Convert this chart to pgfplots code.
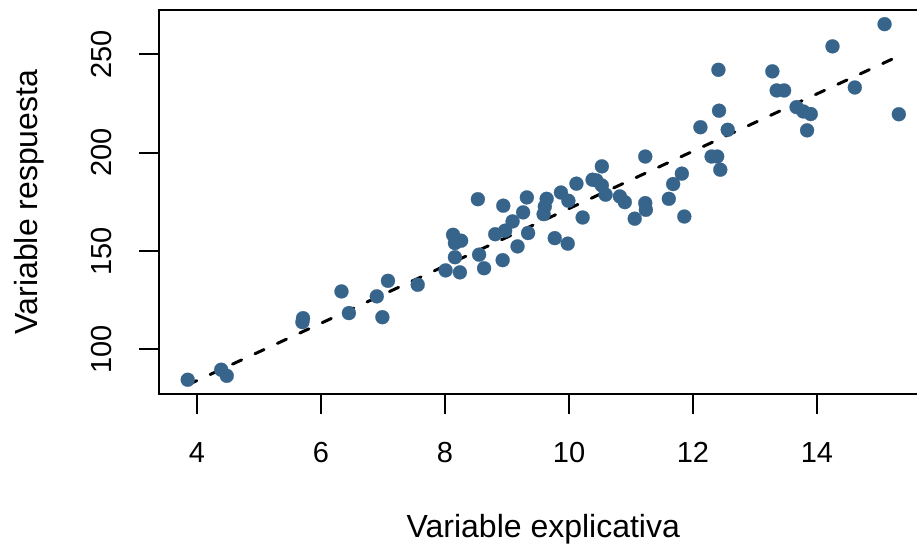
\documentclass[border=0pt]{standalone}
\usepackage{fontspec}
\setmainfont{Liberation Sans}
\usepackage{pgfplots}
\pgfplotsset{compat=1.18}
\usetikzlibrary{calc}
\definecolor{pt}{HTML}{36648B}
\begin{document}
\begin{tikzpicture}
\begin{axis}[
  scale only axis, width=757.6pt, height=383.9pt,
  xmin=3.39, xmax=15.61, ymin=77.4, ymax=272.6,
  xtick={4,6,8,10,12,14}, ytick={100,150,200,250},
  minor tick num=0,
  axis line style={draw=none},
  tick align=outside, major tick length=20pt, tick pos=left,
  every tick/.style={black, line width=2pt},
  /pgf/number format/assume math mode=true,
  ticklabel style={font=\fontsize{29}{34}\selectfont, inner sep=0pt},
  xticklabel shift=28pt, yticklabel shift=27pt,
  xticklabel style={anchor=north},
  yticklabel style={rotate=90, anchor=south},
  every axis x label/.style={at={($(rel axis cs:0.507,0)+(0,-143.1pt)$)}, anchor=base, font=\fontsize{32}{38}\selectfont, inner sep=0pt},
  every axis y label/.style={at={($(rel axis cs:0,0.5)+(-121.2pt,0)$)}, rotate=90, anchor=base, font=\fontsize{32}{38}\selectfont, inner sep=0pt},
  xlabel={Variable explicativa}, ylabel={Variable respuesta},
]
\addplot[color=pt, only marks, mark=*, mark size=7pt, mark options={fill=pt, draw=pt, line width=0.2pt}] table {
x y
3.85 84.6
4.39 89.7
4.48 86.6
5.71 115.9
5.70 113.9
6.33 129.5
6.45 118.5
6.90 127.0
6.99 116.4
7.08 134.9
7.56 132.9
8.01 140.2
8.24 139.2
8.13 158.3
8.16 154.1
8.26 155.3
8.16 146.9
8.53 176.4
8.55 148.2
8.63 141.3
8.81 158.6
8.93 145.4
8.94 173.1
8.97 160.4
9.09 165.1
9.17 152.4
9.26 169.7
9.32 177.3
9.34 159.2
9.59 168.8
9.61 172.7
9.64 176.6
9.77 156.6
9.87 179.8
9.98 153.8
9.99 175.6
10.12 184.3
10.22 167.1
10.38 186.3
10.44 186.0
10.53 183.4
10.59 178.7
10.53 193.1
10.82 177.8
10.90 174.9
11.06 166.5
11.23 174.4
11.24 171.0
11.23 198.1
11.61 176.6
11.68 184.1
11.82 189.4
11.86 167.6
12.12 213.0
12.30 198.1
12.39 198.1
12.44 191.4
12.56 211.7
12.42 221.4
12.41 242.2
13.28 241.4
13.35 231.7
13.47 231.7
14.61 233.2
13.67 223.2
13.78 221.0
13.90 219.7
13.84 211.4
15.32 219.6
15.09 265.4
14.25 254.1
};
\addplot[black, line width=3pt, line cap=round, dash pattern=on 10pt off 14.7pt] coordinates {(3.85,82.0) (15.32,249.2)};
\coordinate (bl) at (rel axis cs:0,0);
\coordinate (tl) at (rel axis cs:0,1);
\coordinate (tr) at (rel axis cs:1,1);
\coordinate (br) at (rel axis cs:1,0);
\end{axis}
\draw[line width=2pt] (tr) -- (tl) -- (bl) -- (br);
\pgfresetboundingbox
\path[use as bounding box] ($(bl)+(-159.2pt,-150.1pt)$) rectangle ($(tr)+(0.2pt,10pt)$);
\end{tikzpicture}
\end{document}
